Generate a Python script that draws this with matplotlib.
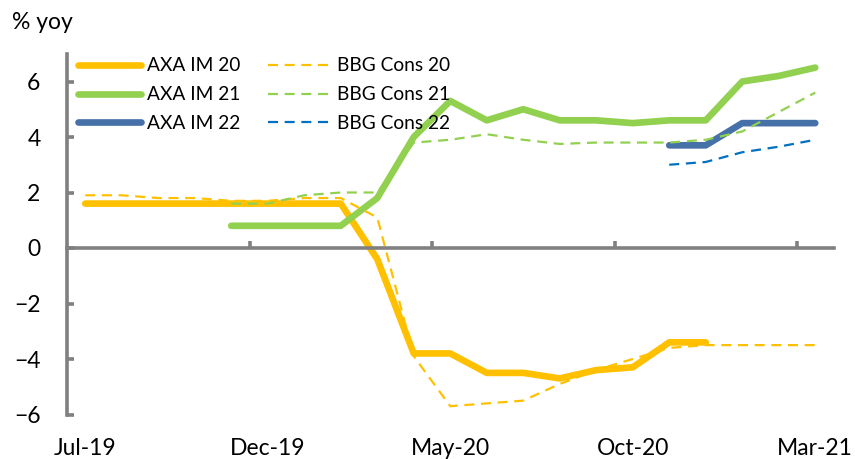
import numpy as np
import matplotlib
matplotlib.use("Agg")
import matplotlib.pyplot as plt

plt.rcParams['font.family'] = ['Lato', 'DejaVu Sans']

nan = np.nan
months = ['Jul-19', 'Aug-19', 'Sep-19', 'Oct-19', 'Nov-19', 'Dec-19', 'Jan-20',
          'Feb-20', 'Mar-20', 'Apr-20', 'May-20', 'Jun-20', 'Jul-20', 'Aug-20',
          'Sep-20', 'Oct-20', 'Nov-20', 'Dec-20', 'Jan-21', 'Feb-21', 'Mar-21']
label_months = ['Jul-19', 'Dec-19', 'May-20', 'Oct-20', 'Mar-21']

axa20 = [1.6, 1.6, 1.6, 1.6, 1.6, 1.6, 1.6, 1.6, -0.4, -3.8, -3.8, -4.5, -4.5,
         -4.7, -4.4, -4.3, -3.4, -3.4, nan, nan, nan]
axa21 = [nan, nan, nan, nan, 0.8, 0.8, 0.8, 0.8, 1.8, 4.0, 5.3, 4.6, 5.0, 4.6,
         4.6, 4.5, 4.6, 4.6, 6.0, 6.2, 6.5]
axa22 = [nan, nan, nan, nan, nan, nan, nan, nan, nan, nan, nan, nan, nan, nan,
         nan, nan, 3.7, 3.7, 4.5, 4.5, 4.5]
bbg20 = [1.9, 1.9, 1.8, 1.8, 1.7, 1.7, 1.8, 1.8, 1.1, -3.9, -5.7, -5.6, -5.5,
         -4.9, -4.4, -4.0, -3.6, -3.5, -3.5, -3.5, -3.5]
bbg21 = [nan, nan, nan, nan, 1.6, 1.6, 1.9, 2.0, 2.0, 3.8, 3.9, 4.1, 3.9, 3.75,
         3.8, 3.8, 3.8, 3.9, 4.2, 4.9, 5.6]
bbg22 = [nan, nan, nan, nan, nan, nan, nan, nan, nan, nan, nan, nan, nan, nan,
         nan, nan, 3.0, 3.1, 3.45, 3.65, 3.9]

ORANGE = '#FFC000'
GREEN = '#92D050'
BLUE_S = '#4670A8'
BLUE_D = '#0070C0'
GREY = '#808080'

fig = plt.figure(figsize=(8.55, 4.59), dpi=100)
ax = fig.add_axes([67 / 855, 1 - 414.5 / 459, 766.5 / 855, (414.5 - 53.75) / 459])

x = np.arange(len(months)) + 0.5

solid_kw = dict(lw=4.8, solid_capstyle='round', solid_joinstyle='round')
dash_kw = dict(lw=1.6, linestyle=(0, (4.5, 3)))

ax.plot(x, axa20, color=ORANGE, label='AXA IM 20', **solid_kw)
ax.plot(x, axa21, color=GREEN, label='AXA IM 21', **solid_kw)
ax.plot(x, axa22, color=BLUE_S, label='AXA IM 22', **solid_kw)
ax.plot(x, bbg20, color=ORANGE, label='BBG Cons 20', **dash_kw)
ax.plot(x, bbg21, color=GREEN, label='BBG Cons 21', **dash_kw)
ax.plot(x, bbg22, color=BLUE_D, label='BBG Cons 22', **dash_kw)

ax.set_xlim(0, len(months))
ax.set_ylim(-6, 7)

for s in ['top', 'right']:
    ax.spines[s].set_visible(False)
ax.spines['left'].set_color(GREY)
ax.spines['left'].set_linewidth(2.6)
ax.spines['left'].set_bounds(-6, 7)
ax.spines['bottom'].set_position(('data', 0))
ax.spines['bottom'].set_color(GREY)
ax.spines['bottom'].set_linewidth(2.6)

ax.set_yticks([-6, -4, -2, 0, 2, 4, 6])
ax.tick_params(axis='y', direction='in', length=5, width=2.6, color=GREY,
               labelsize=16.5, pad=19, labelcolor='black')
ax.set_xticks([5, 10, 15, 20])
ax.tick_params(axis='x', direction='in', length=5, width=2.6, color=GREY,
               labelbottom=False)

sec = ax.secondary_xaxis('bottom')
sec.set_xticks(x[::5], label_months)
sec.tick_params(length=0, pad=17, labelsize=16.5)
sec.spines['bottom'].set_visible(False)

leg = ax.legend(ncol=2, loc='upper left', bbox_to_anchor=(0.014, 0.99),
                frameon=False, fontsize=13.8, handlelength=3.3,
                handletextpad=0.3, columnspacing=1.45, labelspacing=0.62,
                borderpad=0, borderaxespad=0)

fig.text(12 / 855, 1 - 29 / 459, '% yoy', fontsize=16.5, va='baseline', ha='left')

fig.savefig('out.png', dpi=100)
